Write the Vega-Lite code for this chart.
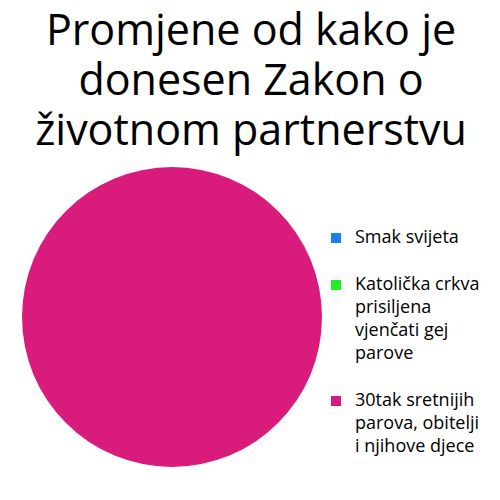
{
  "$schema": "https://vega.github.io/schema/vega-lite/v6.json",
  "width": 300,
  "height": 300,
  "padding": {"left": 22, "top": 11, "right": 5, "bottom": 5},
  "background": "white",
  "title": {
    "text": ["Promjene od kako je", "donesen Zakon o", "životnom partnerstvu"],
    "font": "Open Sans",
    "fontSize": 43,
    "fontWeight": "normal",
    "lineHeight": 50,
    "color": "black",
    "anchor": "middle",
    "frame": "bounds",
    "offset": 13
  },
  "data": {
    "values": [
      {"category": "Smak svijeta", "value": 0},
      {"category": "Katolička crkva|prisiljena|vjenčati gej|parove", "value": 0},
      {"category": "30tak sretnijih|parova, obitelji|i njihove djece", "value": 100}
    ]
  },
  "mark": {"type": "arc", "stroke": null},
  "encoding": {
    "theta": {"field": "value", "type": "quantitative", "stack": true},
    "color": {
      "field": "category",
      "type": "nominal",
      "scale": {
        "domain": ["Smak svijeta", "Katolička crkva|prisiljena|vjenčati gej|parove", "30tak sretnijih|parova, obitelji|i njihove djece"],
        "range": ["#1a80f2", "#22ee22", "#d91c7c"]
      },
      "legend": {
        "title": null,
        "orient": "none",
        "legendX": 305,
        "legendY": 62,
        "symbolType": "square",
        "symbolSize": 100,
        "symbolStrokeWidth": 0,
        "labelExpr": "split(datum.label, '|')",
        "labelFont": "Open Sans",
        "labelFontSize": 18,
        "labelColor": "black",
        "labelOffset": 10,
        "labelLimit": 200,
        "rowPadding": 29
      }
    }
  },
  "config": {
    "view": {"stroke": null},
    "style": {"guide-label": {"lineHeight": 23}}
  }
}
